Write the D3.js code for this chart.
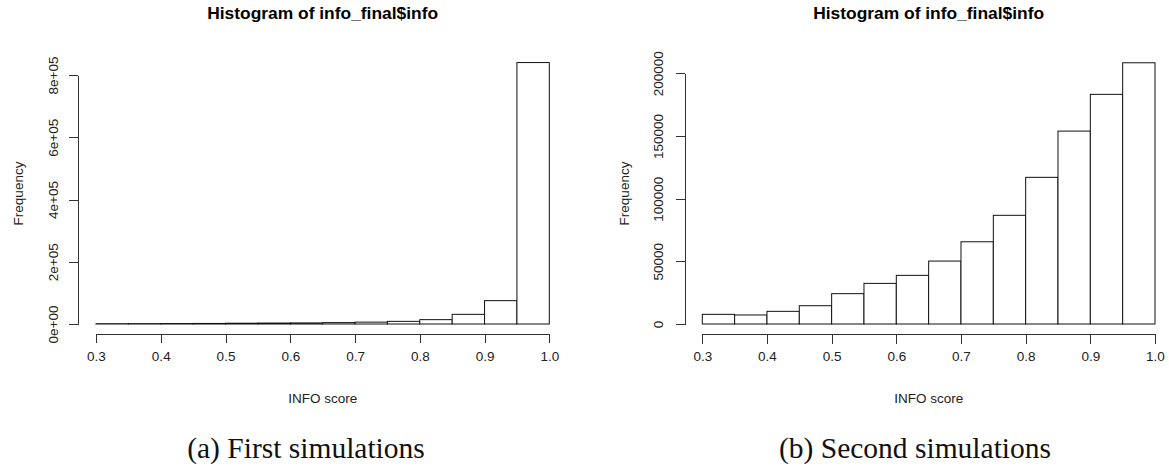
<!DOCTYPE html>
<html>
<head>
<meta charset="utf-8">
<script src="https://cdn.jsdelivr.net/npm/d3@7"></script>
<style>
  html, body { margin: 0; padding: 0; background: #fff; }
  svg { display: block; }
  .axis path, .axis line { stroke: #333; stroke-width: 1; shape-rendering: crispEdges; }
  .axis text { font-family: "Liberation Sans", Arial, sans-serif; font-size: 13.5px; fill: #222; }
</style>
</head>
<body>
<svg id="chart" width="1169" height="474"></svg>
<script>
// Histogram bins of INFO score (bin width 0.05, 0.30 to 1.00)
const binStarts = [0.30, 0.35, 0.40, 0.45, 0.50, 0.55, 0.60, 0.65, 0.70, 0.75, 0.80, 0.85, 0.90, 0.95];
const binWidth = 0.05;

// First simulations: counts per bin
const firstCounts = [1000, 1200, 1500, 1800, 2500, 3000, 3500, 4500, 6000, 8500, 14000, 31000, 75000, 840000];
// Second simulations: counts per bin
const secondCounts = [7700, 7200, 10100, 14600, 24200, 32400, 38800, 50200, 65600, 86700, 117000, 153900, 183200, 208400];

// Axis ticks
const xTicks = [0.3, 0.4, 0.5, 0.6, 0.7, 0.8, 0.9, 1.0];
const firstYTicks = [0, 200000, 400000, 600000, 800000];
const firstYLabels = ["0e+00", "2e+05", "4e+05", "6e+05", "8e+05"];
const secondYTicks = [0, 50000, 100000, 150000, 200000];
const secondYLabels = ["0", "50000", "100000", "150000", "200000"];

// Text
const mainTitle = "Histogram of info_final$info";
const xTitle = "INFO score";
const yTitle = "Frequency";
const captions = ["(a) First simulations", "(b) Second simulations"];

const svg = d3.select("#chart");

function histogram(cfg) {
  const x = d3.scaleLinear().domain([0.3, 1.0]).range(cfg.xRange);
  const y = d3.scaleLinear().domain([0, cfg.yTicks[cfg.yTicks.length - 1]]).range(cfg.yRange);
  const g = svg.append("g");
  const base = y(0);

  // bars
  g.selectAll("rect.bar")
    .data(cfg.counts.map((c, i) => ({ x0: binStarts[i], x1: binStarts[i] + binWidth, c })))
    .join("rect")
    .attr("class", "bar")
    .attr("x", d => x(d.x0))
    .attr("width", d => x(d.x1) - x(d.x0))
    .attr("y", d => y(d.c))
    .attr("height", d => base - y(d.c))
    .attr("fill", "#fff")
    .attr("stroke", "#111")
    .attr("stroke-width", 1);

  // x axis, drawn below the plot like R's base graphics
  const xAxis = g.append("g")
    .attr("class", "axis")
    .attr("transform", `translate(0,${cfg.xAxisY})`)
    .call(d3.axisBottom(x).tickValues(xTicks).tickFormat(d3.format(".1f")).tickSize(9.5).tickSizeOuter(0).tickPadding(8));
  xAxis.selectAll("text").attr("dy", "0.71em");

  // y axis with rotated labels
  const yAxis = g.append("g")
    .attr("class", "axis")
    .attr("transform", `translate(${cfg.yAxisX},0)`)
    .call(d3.axisLeft(y).tickValues(cfg.yTicks).tickFormat((d, i) => cfg.yLabels[i]).tickSize(9.5).tickSizeOuter(0));
  yAxis.selectAll("text")
    .attr("transform", "rotate(-90)")
    .attr("x", 0)
    .attr("y", cfg.yLabelOffset)
    .attr("dy", 0)
    .attr("text-anchor", "middle");

  const cx = (cfg.xRange[0] + cfg.xRange[1]) / 2;

  // main title
  g.append("text")
    .attr("x", cx)
    .attr("y", 19)
    .attr("text-anchor", "middle")
    .attr("font-family", "Liberation Sans, Arial, sans-serif")
    .attr("font-weight", "bold")
    .attr("font-size", "17.4px")
    .attr("fill", "#000")
    .text(mainTitle);

  // axis titles
  g.append("text")
    .attr("x", cx)
    .attr("y", 403)
    .attr("text-anchor", "middle")
    .attr("font-family", "Liberation Sans, Arial, sans-serif")
    .attr("font-size", "13.5px")
    .attr("fill", "#222")
    .text(xTitle);

  g.append("text")
    .attr("transform", `translate(${cfg.yTitleX},${cfg.yTitleY}) rotate(-90)`)
    .attr("text-anchor", "middle")
    .attr("font-family", "Liberation Sans, Arial, sans-serif")
    .attr("font-size", "13.5px")
    .attr("fill", "#222")
    .text(yTitle);

  // subfigure caption
  svg.append("text")
    .attr("x", cfg.captionX)
    .attr("y", 458)
    .attr("text-anchor", "middle")
    .attr("font-family", "Liberation Serif, Times New Roman, serif")
    .attr("font-size", "29.5px")
    .attr("fill", "#111")
    .text(cfg.caption);
}

histogram({
  counts: firstCounts,
  yTicks: firstYTicks,
  yLabels: firstYLabels,
  xRange: [96, 549.3],
  yRange: [324, 75],
  xAxisY: 333.5,
  yAxisX: 78,
  yLabelOffset: -20,
  yTitleX: 23,
  yTitleY: 193.5,
  caption: captions[0],
  captionX: 306
});

histogram({
  counts: secondCounts,
  yTicks: secondYTicks,
  yLabels: secondYLabels,
  xRange: [702.3, 1155],
  yRange: [324, 73.3],
  xAxisY: 334,
  yAxisX: 685,
  yLabelOffset: -22,
  yTitleX: 629,
  yTitleY: 193.5,
  caption: captions[1],
  captionX: 915
});
</script>
</body>
</html>
